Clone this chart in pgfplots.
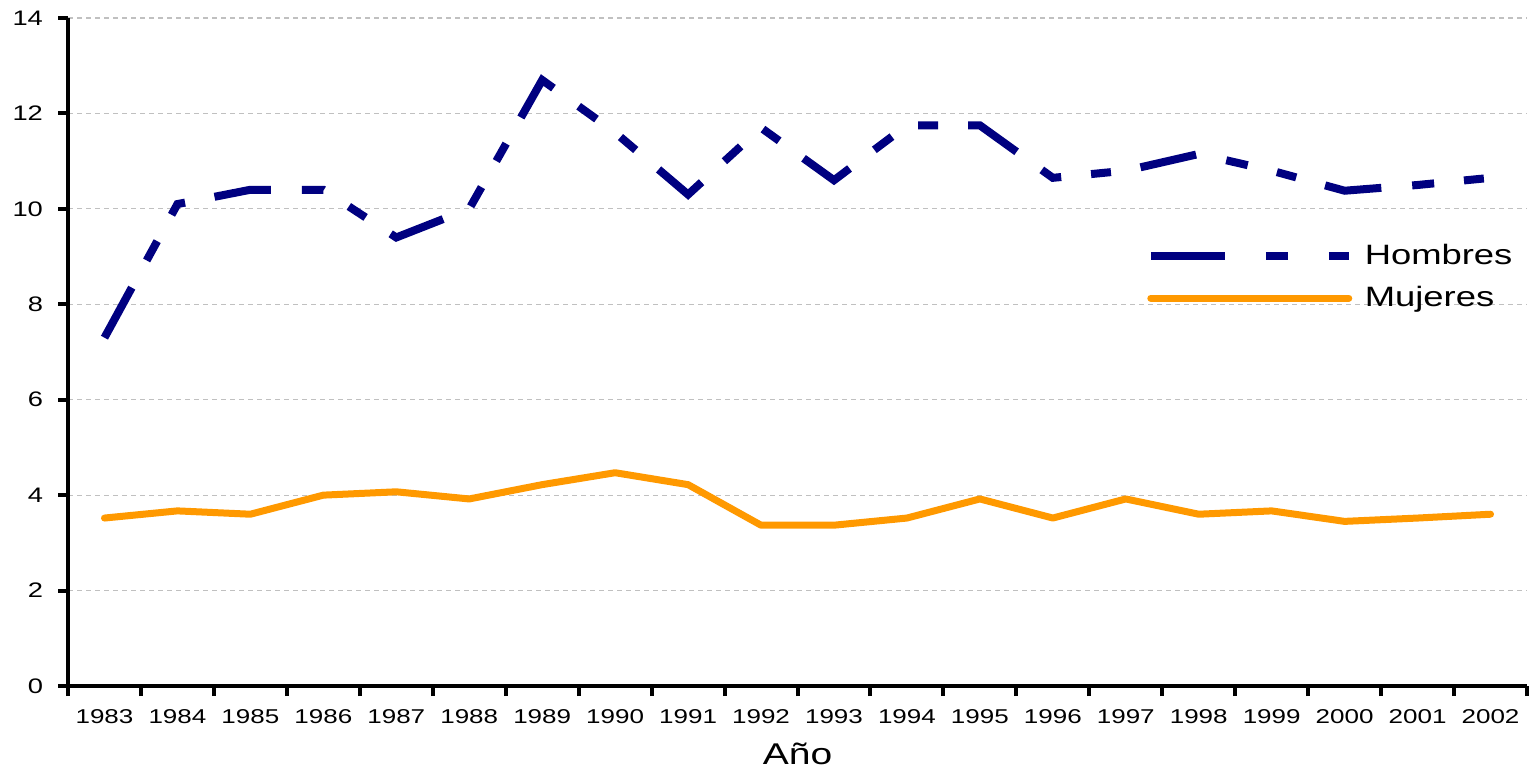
\documentclass[border=0pt]{standalone}
\usepackage{fontspec}
\setmainfont[FakeStretch=1.3]{Liberation Sans}
\usepackage{pgfplots}
\pgfplotsset{compat=1.18}
\definecolor{hom}{RGB}{0,0,128}
\definecolor{muj}{RGB}{255,153,0}
\definecolor{gridc}{RGB}{192,192,192}
\pgfplotsset{homleg/.style={legend image code/.code={\draw[##1, dash pattern=on 37pt off 20.5pt on 11pt off 20.5pt on 10pt off 20.5pt] (0pt,0pt) -- (99pt,0pt); \path (105pt,0pt);}}}
\begin{document}
\begin{tikzpicture}
\begin{axis}[
  name=ax,
  scale only axis,
  width=729.5pt, height=334pt,
  xmin=-0.5, xmax=19.5,
  ymin=0, ymax=14,
  ytick={0,2,...,14},
  xtick={0,...,19},
  xticklabels={1983,1984,1985,1986,1987,1988,1989,1990,1991,1992,1993,1994,1995,1996,1997,1998,1999,2000,2001,2002},
  minor xtick={-0.5,0.5,...,19.5},
  major x tick style={draw=none},
  minor x tick style={draw=black, line width=2pt},
  major y tick style={draw=black, line width=2pt},
  major tick length=5pt, minor tick length=5pt,
  tick align=outside,
  axis x line*=bottom, axis y line*=left,
  axis line style={line width=2pt, black, -},
  ymajorgrids,
  grid style={gridc, line width=0.6pt, dash pattern=on 2.5pt off 2pt},
  /pgf/number format/assume math mode=true,
  xticklabel style={font=\fontsize{10}{11}\selectfont, yshift=-3pt},
  yticklabel style={font=\fontsize{10.5}{11}\selectfont, xshift=-4pt},
  xlabel={Año},
  xlabel style={font=\fontsize{15}{16}\selectfont, yshift=-3pt},
  legend style={draw=none, fill=none, at={(0.735,0.668)}, anchor=north west,
    font=\fontsize{14}{15}\selectfont, row sep=9.5pt,
    nodes={inner sep=0pt}},
  legend cell align=left,
  legend image code/.code={\draw[#1] (0pt,0pt) -- (99pt,0pt); \path (105pt,0pt);},
]
\addplot[hom, line width=4pt, line cap=butt, line join=miter,
  dash pattern=on 28.5pt off 15.5pt on 11pt off 15pt on 10pt off 15pt, homleg]
coordinates {(0,7.3)(1,10.1)(2,10.4)(3,10.4)(4,9.4)(5,10.0)(6,12.7)(7,11.6)(8,10.3)(9,11.7)
(10,10.6)(11,11.75)(12,11.75)(13,10.65)(14,10.8)(15,11.15)(16,10.8)(17,10.38)(18,10.5)(19,10.65)};
\addlegendentry{Hombres}
\addplot[muj, line width=3.5pt, line cap=round, line join=round]
coordinates {(0,3.52)(1,3.67)(2,3.6)(3,4.0)(4,4.07)(5,3.92)(6,4.22)(7,4.47)(8,4.22)(9,3.37)
(10,3.37)(11,3.52)(12,3.92)(13,3.52)(14,3.92)(15,3.6)(16,3.67)(17,3.45)(18,3.52)(19,3.6)};
\addlegendentry{Mujeres}
\end{axis}
\pgfresetboundingbox
\path[use as bounding box] ([shift={(-34pt,-42pt)}]ax.south west) rectangle ([shift={(1.5pt,9pt)}]ax.north east);
\end{tikzpicture}
\end{document}
